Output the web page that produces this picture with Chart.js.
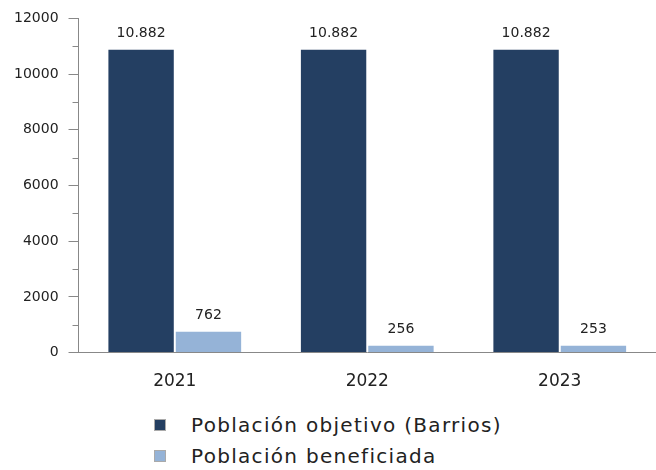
<!DOCTYPE html>
<html>
<head>
<meta charset="utf-8">
<script src="https://cdn.jsdelivr.net/npm/chart.js@4"></script>
<style>
	body{margin:0;background:#fff;font-family:"DejaVu Sans",sans-serif;}
	#wrap{width:656px;height:403px;position:relative;}
	#legend{margin:6px 0 0 154px;font-size:20px;color:#222;letter-spacing:1.3px;}
	.item{display:flex;align-items:center;height:31px;}
	.box{width:10px;height:10px;margin-right:25px;border:1px solid #aaa;}
</style>
</head>
<body>
<div id="wrap"><canvas id="chart"></canvas></div>
<div id="legend"></div>
<script>
'use strict';

const years = ['2021', '2022', '2023'];
const objetivo = [10882, 10882, 10882];
const beneficiada = [762, 256, 253];
const seriesNames = ['Población objetivo (Barrios)', 'Población beneficiada'];
const seriesColors = ['#243f62', '#95b3d7'];

//small ticks between the labelled ones, and the numbers over the bars
const extras = {
	id: 'extras',
	afterDraw(chart){
		const ctx = chart.ctx;
		const y = chart.scales.y;
		ctx.save();
		ctx.strokeStyle = '#888';
		ctx.lineWidth = 1;
		for(let v = 1000; v < 12000; v += 2000){
			const py = Math.round(y.getPixelForValue(v)) + 0.5;
			ctx.beginPath();
			ctx.moveTo(y.right - 6, py);
			ctx.lineTo(y.right, py);
			ctx.stroke();
		}
		ctx.fillStyle = '#222';
		ctx.font = '14px "DejaVu Sans"';
		ctx.textAlign = 'center';
		ctx.textBaseline = 'bottom';
		chart.data.datasets.forEach(function(ds, i){
			chart.getDatasetMeta(i).data.forEach(function(bar, j){
				ctx.fillText(ds.data[j].toLocaleString('es-ES', {useGrouping: 'always'}), bar.x, bar.y - 9);
			});
		});
		ctx.restore();
	}
};

const chart = new Chart(document.getElementById('chart'), {
	type: 'bar',
	data: {
		labels: years,
		datasets: [
			{label: seriesNames[0], data: objetivo, backgroundColor: seriesColors[0], borderColor: '#fff', borderWidth: {left: 1, right: 1}},
			{label: seriesNames[1], data: beneficiada, backgroundColor: seriesColors[1], borderColor: '#fff', borderWidth: {left: 1, right: 1}}
		]
	},
	options: {
		responsive: true,
		maintainAspectRatio: false,
		animation: false,
		layout: {padding: {left: 4, top: 7, right: 0, bottom: 0}},
		categoryPercentage: 0.7,
		barPercentage: 1,
		plugins: {legend: {display: false}, tooltip: {enabled: false}},
		scales: {
			x: {
				grid: {display: false},
				border: {color: '#888', width: 1},
				ticks: {color: '#222', font: {family: 'DejaVu Sans', size: 17}, padding: 11}
			},
			y: {
				min: 0,
				max: 12000,
				grid: {drawOnChartArea: false, drawTicks: true, tickLength: 10, color: '#888'},
				border: {color: '#888', width: 1},
				ticks: {stepSize: 2000, color: '#222', font: {family: 'DejaVu Sans', size: 14}, padding: 10,
					callback: function(v){ return String(v); }}
			}
		}
	},
	plugins: [extras]
});

const legend = document.getElementById('legend');
seriesNames.forEach(function(name, i){
	const item = document.createElement('div');
	item.className = 'item';
	item.innerHTML = '<span class="box" style="background:' + seriesColors[i] + '"></span>' + name;
	legend.appendChild(item);
});
</script>
</body>
</html>
